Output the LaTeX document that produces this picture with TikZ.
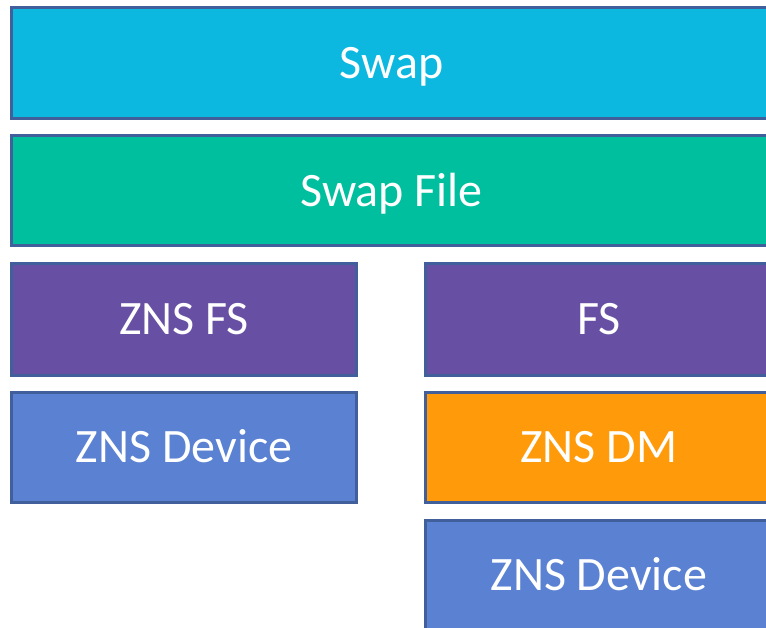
\documentclass[tikz,border=0pt]{standalone}
\usepackage{fontspec}
\setmainfont{Carlito}
\definecolor{edge}{HTML}{41609B}
\definecolor{swapc}{HTML}{0CB8E0}
\definecolor{filec}{HTML}{00BF9E}
\definecolor{fsc}{HTML}{6750A4}
\definecolor{devc}{HTML}{5A81D2}
\definecolor{dmc}{HTML}{FF9B0B}
\begin{document}
\begin{tikzpicture}[x=1pt,y=-1pt,
  layer/.style={draw=edge, line width=3pt, fill=#1, text=white,
    inner sep=0pt, text height=31pt, text depth=0pt,
    font=\fontsize{48}{52}\selectfont, rectangle}]
\useasboundingbox (0,0) rectangle (766,627);
\clip (0,0) rectangle (766,627);
% full-width layers
\node[layer=swapc, minimum width=760.5pt, minimum height=110.5pt] (swap) at (391.75,62.75) {Swap};
\node[layer=filec, minimum width=760.5pt, minimum height=110pt] (file) at (391.75,190.5) {Swap File};
% left stack
\node[layer=fsc, minimum width=345pt, minimum height=111.5pt] (znsfs) at (184,319.25) {ZNS FS};
\node[layer=devc, minimum width=345pt, minimum height=110pt] (devl) at (184,447) {ZNS Device};
% right stack
\node[layer=fsc, minimum width=346.5pt, minimum height=111.5pt] (fs) at (598.75,319.25) {FS};
\node[layer=dmc, minimum width=346.5pt, minimum height=110pt] (dm) at (598.75,447) {ZNS DM};
\node[layer=devc, minimum width=346.5pt, minimum height=110pt] (devr) at (598.75,575) {ZNS Device};
\end{tikzpicture}
\end{document}
